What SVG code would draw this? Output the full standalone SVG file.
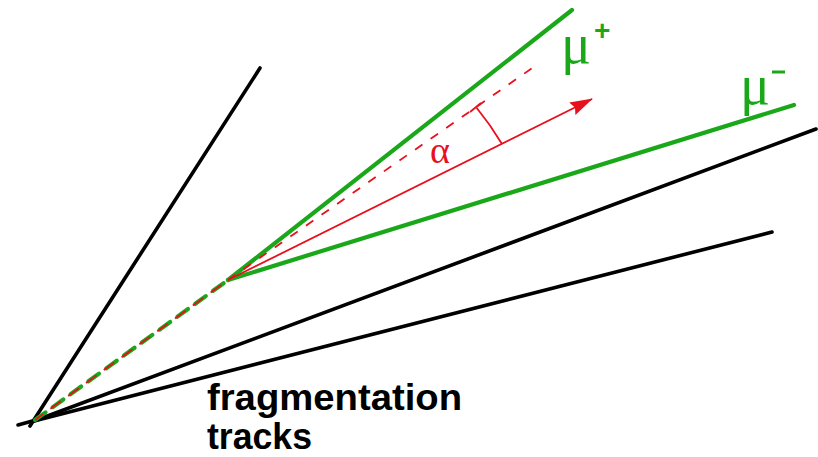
<svg xmlns="http://www.w3.org/2000/svg" width="818" height="457" viewBox="0 0 818 457">
<defs>
<style>
.blk{stroke:#000;stroke-width:3.6;stroke-linecap:round;fill:none}
.grn{stroke:#1aa81a;stroke-width:4.2;stroke-linecap:round;fill:none}
.red{stroke:#e8101c;stroke-width:1.8;fill:none}
.lbl{font-family:"Liberation Sans",Arial,sans-serif;font-weight:bold;font-size:36px;fill:#000}
.mu{font-family:"Liberation Serif","DejaVu Serif",serif;fill:#1aa81a}
</style>
<marker id="ah" markerUnits="userSpaceOnUse" markerWidth="24" markerHeight="16" refX="22" refY="8" orient="auto">
<path d="M0,1 L23,8 L0,15 L3,8 Z" fill="#e8101c"/>
</marker>
</defs>
<rect width="818" height="457" fill="#fff"/>
<g id="connectors">
<line class="blk" x1="18" y1="425" x2="36" y2="420"/>
<line class="blk" x1="30" y1="426" x2="260" y2="68"/>
<line class="blk" x1="34" y1="421" x2="816" y2="129"/>
<line class="blk" x1="34" y1="421" x2="772" y2="232"/>
<line class="grn" x1="35" y1="420" x2="228" y2="280" stroke-dasharray="13,9" stroke-linecap="butt"/>
<line class="red" x1="35" y1="420" x2="228" y2="280" stroke-dasharray="13,9" stroke-dashoffset="3"/>
<line class="grn" x1="228" y1="280" x2="572" y2="10"/>
<line class="grn" x1="228" y1="280" x2="794" y2="105"/>
<line class="red" x1="228" y1="280" x2="538" y2="64" stroke-dasharray="9,10"/>
<line class="red" x1="228" y1="280" x2="592" y2="99" marker-end="url(#ah)"/>
<path class="red" d="M476,107 A303,303 0 0 1 502,144"/>
<line class="red" x1="470" y1="112" x2="481" y2="103"/>
</g>
<g id="alpha"><text x="430" y="163" font-family="Liberation Serif,serif" font-size="38" fill="#e8101c">α</text></g>
<g id="mu-plus"><text class="mu" x="561" y="63" font-size="56">μ</text><text x="594" y="40" font-family="Liberation Sans,sans-serif" font-weight="bold" font-size="28" fill="#1aa81a">+</text></g>
<g id="mu-minus"><text class="mu" x="740" y="104" font-size="56">μ</text><line x1="772" y1="72" x2="785" y2="72" stroke="#1aa81a" stroke-width="3"/></g>
<g id="label">
<text class="lbl" x="207" y="410" textLength="255" lengthAdjust="spacingAndGlyphs">fragmentation</text>
<text class="lbl" x="207" y="449" textLength="105" lengthAdjust="spacingAndGlyphs">tracks</text>
</g>
</svg>
